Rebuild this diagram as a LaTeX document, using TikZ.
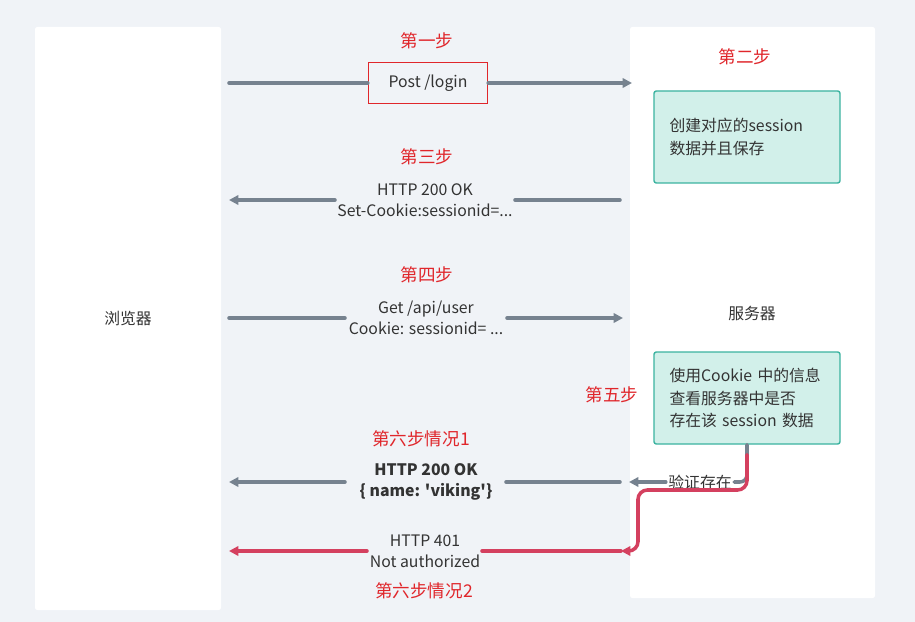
\documentclass[tikz,border=0pt]{standalone}
\usepackage{fontspec}
\setmainfont{Noto Sans CJK SC}
\usepackage{xcolor}
\usetikzlibrary{arrows.meta}
\definecolor{bg}{HTML}{F0F3F7}
\definecolor{stepred}{HTML}{E0262B}
\definecolor{flow}{HTML}{76828F}
\definecolor{fail}{HTML}{D4405F}
\definecolor{boxfill}{HTML}{D2F0EA}
\definecolor{boxline}{HTML}{3BB3A0}
\definecolor{txt}{HTML}{333333}
\tikzset{
  steplabel/.style={text=stepred, font=\fontsize{15}{17}\selectfont},
  msg/.style={text=txt, font=\fontsize{13.5}{18}\selectfont, align=center},
  note/.style={draw=boxline, fill=boxfill, line width=1.2pt, rounded corners=2pt,
    minimum width=186*0.03cm, minimum height=92*0.03cm, text width=155*0.03cm,
    align=left, text=txt, font=\fontsize{13.5}{19}\selectfont},
  flowline/.style={draw=flow, line width=3pt, line cap=round},
  tip/.style={-{Triangle[length=8pt,width=8pt]}},
}
\begin{document}
\begin{tikzpicture}[x=0.03cm, y=-0.03cm]
    \fill[bg] (0,0) rectangle (915,622);
    \useasboundingbox (0,0) rectangle (915,622);
    \fill[white, rounded corners=2pt] (35,27) rectangle (221,610);
    \fill[white, rounded corners=2pt] (630,27) rectangle (875,598);
    \node[msg] (browser) at (128,318) {浏览器};
    \node[msg] (server) at (752,313) {服务器};
    % steps
    \node[steplabel] (s1) at (427,41) {第一步};
    \node[steplabel] (s2) at (745,57) {第二步};
    \node[steplabel] (s3) at (427,157) {第三步};
    \node[steplabel] (s4) at (427,275) {第四步};
    \node[steplabel] (s5) at (612,395) {第五步};
    \node[steplabel] (s61) at (421,439) {第六步情况1};
    \node[steplabel] (s62) at (424,591) {第六步情况2};
    % notes
    \node[note] (create) at (747,137) {创建对应的session\\数据并且保存};
    \node[note] (check) at (747,398) {使用Cookie 中的信息\\查看服务器中是否\\存在该 session 数据};
    % post
    \node[msg, draw=stepred, line width=1.2pt, minimum width=119*0.03cm,
      minimum height=41*0.03cm] (post) at (428,83) {Post /login};
    \coordinate (b1) at (229,83);
    \coordinate (v1) at (632,83);
    \draw[flowline] (b1) -- (post.west);
    \draw[flowline, tip] (post.east) -- (v1);
    % set cookie
    \node[msg] (setc) at (425,200) {HTTP 200 OK\\Set-Cookie:sessionid=...};
    \coordinate (v3) at (620,200);
    \coordinate (g3) at (515,200);
    \coordinate (h3) at (335,200);
    \coordinate (b3) at (229,200);
    \draw[flowline] (v3) -- (g3);
    \draw[flowline, tip] (h3) -- (b3);
    % get user
    \node[msg] (getu) at (426,318) {Get /api/user\\Cookie: sessionid= ...};
    \coordinate (b4) at (229,318);
    \coordinate (h4) at (345,318);
    \coordinate (g4) at (507,318);
    \coordinate (v4) at (623,318);
    \draw[flowline] (b4) -- (h4);
    \draw[flowline, tip] (g4) -- (v4);
    % case 1
    \node[msg, inner sep=2pt] (exist) at (700,482) {验证存在};
    \node[msg, font=\bfseries\fontsize{13.5}{18}\selectfont] (ok) at (426,482) {HTTP 200 OK\\\{ name: \textquotesingle viking\textquotesingle\}};
    \coordinate (v6) at (629,482);
    \coordinate (g6) at (620,482);
    \coordinate (h6) at (506,482);
    \coordinate (i6) at (345,482);
    \coordinate (b6) at (229,482);
    \draw[flowline, rounded corners=6pt] (check.south) |- (exist.east);
    \draw[flowline, tip] (exist.west) -- (v6);
    \draw[flowline] (g6) -- (h6);
    \draw[flowline, tip] (i6) -- (b6);
    % case 2
    \node[msg] (deny) at (425,551) {HTTP 401\\Not authorized};
    \coordinate (t1) at (638,490);
    \coordinate (v7) at (621,551);
    \coordinate (h7) at (482,551);
    \coordinate (i7) at (367,551);
    \coordinate (b7) at (229,551);
    \draw[flowline, draw=fail, rounded corners=8pt, tip] ([yshift=-10*0.03cm]check.south) |- (t1) |- (v7);
    \draw[flowline, draw=fail] (h7) -- (v7);
    \draw[flowline, draw=fail, tip] (i7) -- (b7);
\end{tikzpicture}
\end{document}
